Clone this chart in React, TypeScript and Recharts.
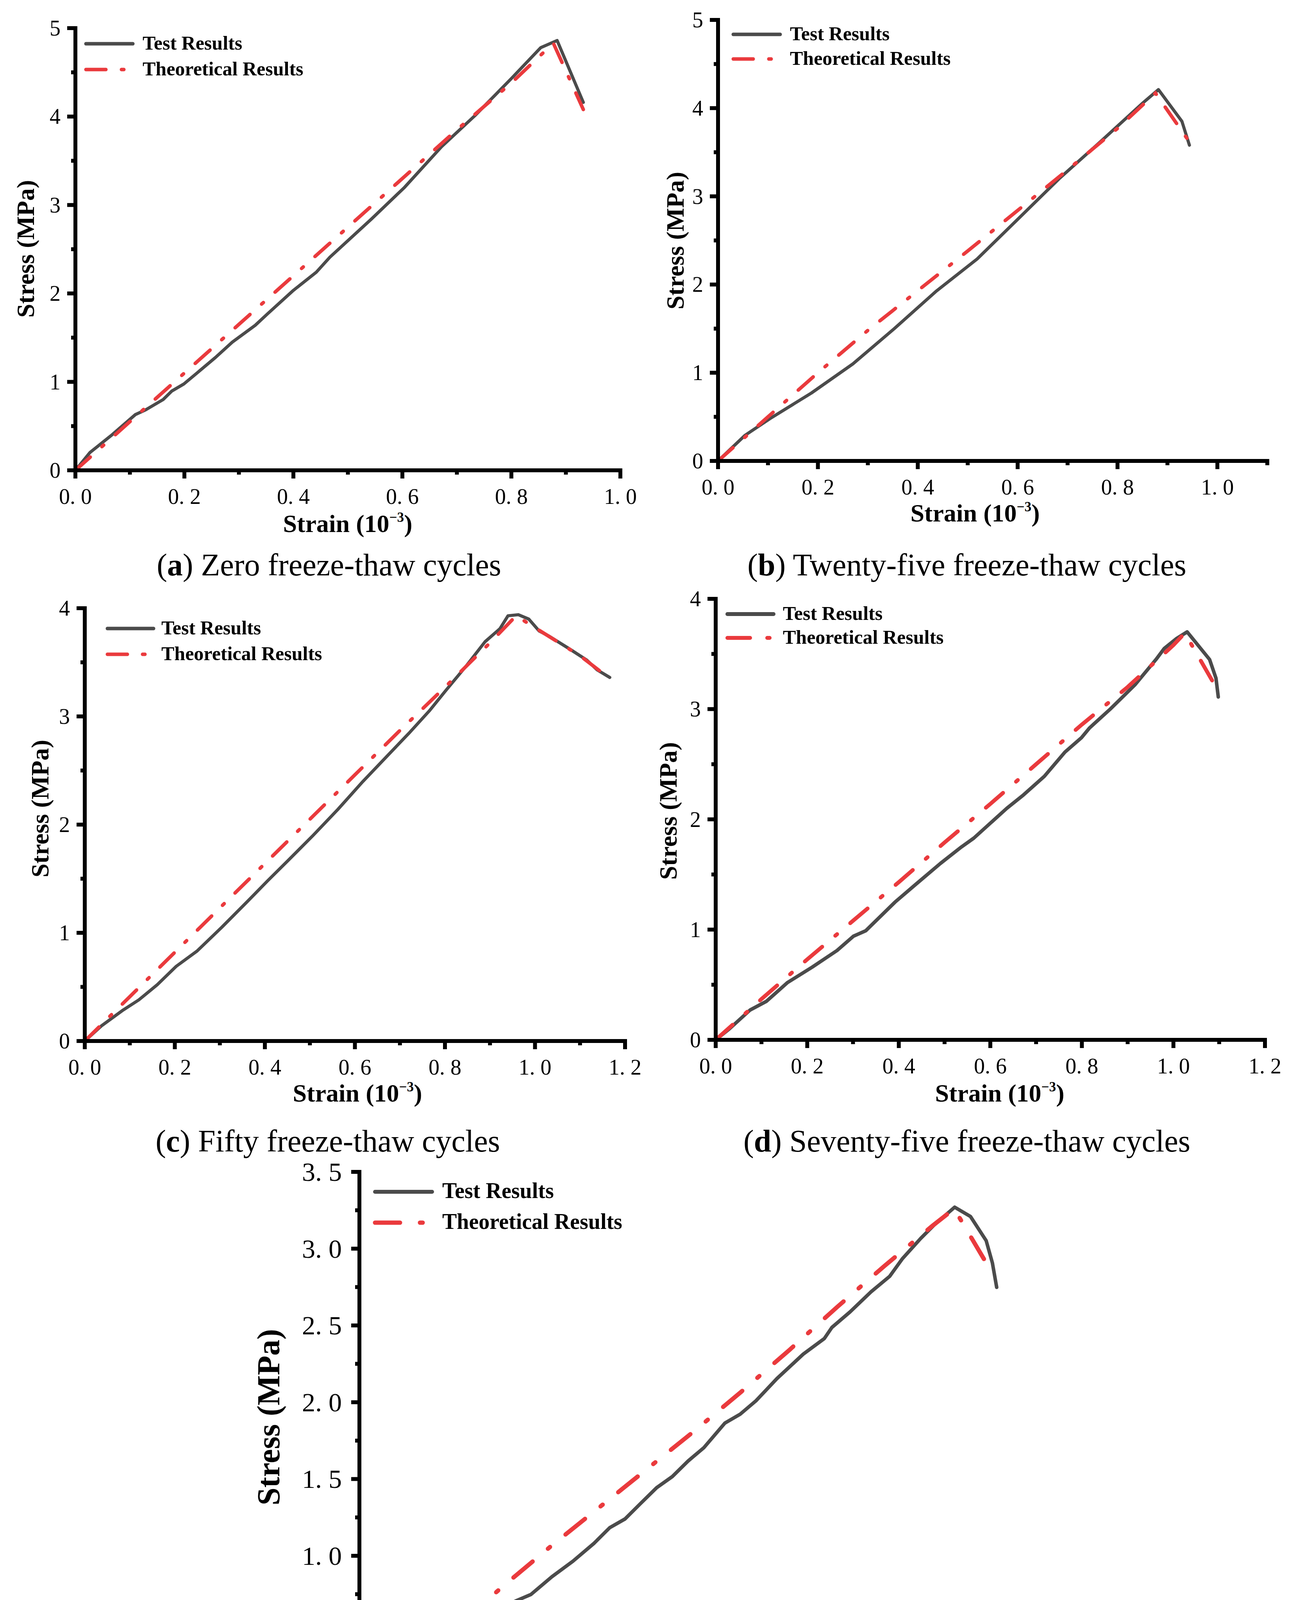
import React from 'react';
import { Line, LineChart, XAxis, YAxis } from 'recharts';

const SERIF = '"Liberation Serif", "Times New Roman", serif';
const TEST_COLOR = '#4b4b4b';
const THEORY_COLOR = '#ea3a3d';

// (a) zero freeze-thaw cycles
const testA = [
  [0, 0], [0.0265, 0.2], [0.065, 0.39], [0.11, 0.63], [0.129, 0.684], [0.161, 0.8],
  [0.177, 0.897], [0.199, 0.976], [0.225, 1.11], [0.257, 1.276], [0.288, 1.45], [0.33, 1.64],
  [0.352, 1.766], [0.4, 2.035], [0.442, 2.24], [0.467, 2.41], [0.543, 2.84], [0.604, 3.2],
  [0.672, 3.66], [0.733, 4.01], [0.8, 4.43], [0.854, 4.78], [0.884, 4.86], [0.932, 4.16],
];
const theoryA = [
  [0, 0], [0.1, 0.55], [0.2, 1.1], [0.3, 1.65], [0.4, 2.2], [0.5, 2.75], [0.6, 3.3],
  [0.7, 3.85], [0.8, 4.38], [0.877, 4.83], [0.932, 4.08],
];

// (b) twenty-five cycles
const testB = [
  [0, 0], [0.054, 0.29], [0.104, 0.48], [0.187, 0.77], [0.27, 1.1], [0.353, 1.5],
  [0.436, 1.92], [0.519, 2.29], [0.602, 2.75], [0.685, 3.21], [0.768, 3.63], [0.851, 4.06],
  [0.882, 4.21], [0.929, 3.85], [0.944, 3.58],
];
const theoryB = [
  [0, 0], [0.1, 0.5], [0.2, 1.0], [0.3, 1.48], [0.4, 1.93], [0.5, 2.38], [0.6, 2.84],
  [0.7, 3.3], [0.8, 3.77], [0.876, 4.17], [0.94, 3.65],
];

// (c) fifty cycles
const testC = [
  [0, 0], [0.037, 0.14], [0.083, 0.28], [0.12, 0.38], [0.161, 0.52], [0.203, 0.69],
  [0.249, 0.83], [0.304, 1.05], [0.359, 1.28], [0.406, 1.48], [0.452, 1.67], [0.507, 1.9],
  [0.562, 2.14], [0.618, 2.4], [0.673, 2.64], [0.719, 2.84], [0.765, 3.05], [0.802, 3.24],
  [0.848, 3.47], [0.889, 3.69], [0.922, 3.81], [0.94, 3.93], [0.963, 3.94], [0.986, 3.9],
  [1.009, 3.79], [1.032, 3.74], [1.078, 3.62], [1.115, 3.52], [1.138, 3.43], [1.166, 3.36],
];
const theoryC = [
  [0, 0], [0.1, 0.41], [0.2, 0.82], [0.3, 1.23], [0.4, 1.64], [0.5, 2.05], [0.6, 2.46],
  [0.7, 2.87], [0.8, 3.27], [0.9, 3.68], [0.958, 3.93], [1.0, 3.82], [1.05, 3.69],
  [1.1, 3.56], [1.166, 3.35],
];

// (d) seventy-five cycles
const testD = [
  [0, 0], [0.03, 0.1], [0.075, 0.27], [0.111, 0.35], [0.157, 0.52], [0.211, 0.66],
  [0.265, 0.81], [0.301, 0.94], [0.328, 0.99], [0.392, 1.25], [0.437, 1.41], [0.491, 1.6],
  [0.537, 1.75], [0.564, 1.83], [0.636, 2.1], [0.672, 2.22], [0.718, 2.39], [0.763, 2.61],
  [0.799, 2.74], [0.817, 2.83], [0.862, 3.0], [0.916, 3.22], [0.962, 3.45], [0.98, 3.55],
  [1.007, 3.64], [1.03, 3.7], [1.079, 3.45], [1.093, 3.28], [1.098, 3.11],
];
const theoryD = [
  [0, 0], [0.1, 0.37], [0.2, 0.73], [0.3, 1.08], [0.4, 1.43], [0.5, 1.79], [0.6, 2.14],
  [0.7, 2.5], [0.8, 2.86], [0.9, 3.2], [1.0, 3.58], [1.025, 3.69], [1.09, 3.22],
];

// (e) one hundred cycles
const testE = [
  [0, 0], [0.031, 0.08], [0.064, 0.14], [0.107, 0.255], [0.151, 0.357], [0.195, 0.443],
  [0.239, 0.545], [0.283, 0.617], [0.326, 0.704], [0.359, 0.748], [0.403, 0.864],
  [0.447, 0.965], [0.491, 1.081], [0.524, 1.183], [0.556, 1.24], [0.589, 1.342],
  [0.622, 1.443], [0.655, 1.516], [0.688, 1.617], [0.721, 1.704], [0.765, 1.864],
  [0.797, 1.922], [0.83, 2.009], [0.874, 2.154], [0.929, 2.313], [0.973, 2.414],
  [0.989, 2.487], [1.027, 2.588], [1.071, 2.719], [1.11, 2.82], [1.137, 2.936],
  [1.175, 3.067], [1.203, 3.154], [1.246, 3.27], [1.279, 3.21], [1.312, 3.052],
  [1.325, 2.907], [1.334, 2.748],
];
const theoryE = [
  [0, 0], [0.1, 0.27], [0.2, 0.53], [0.3, 0.8], [0.4, 1.06], [0.5, 1.31], [0.6, 1.56],
  [0.7, 1.81], [0.8, 2.07], [0.9, 2.34], [1.0, 2.62], [1.1, 2.89], [1.2, 3.15],
  [1.245, 3.26], [1.323, 2.85],
];

const xTicks10 = [0, 0.1, 0.2, 0.3, 0.4, 0.5, 0.6, 0.7, 0.8, 0.9, 1.0];
const xTicks11 = [0, 0.1, 0.2, 0.3, 0.4, 0.5, 0.6, 0.7, 0.8, 0.9, 1.0, 1.1];
const xTicks12 = [0, 0.1, 0.2, 0.3, 0.4, 0.5, 0.6, 0.7, 0.8, 0.9, 1.0, 1.1, 1.2];
const xTicks14 = [0, 0.1, 0.2, 0.3, 0.4, 0.5, 0.6, 0.7, 0.8, 0.9, 1.0, 1.1, 1.2, 1.3, 1.4];
const yTicks5 = [0, 0.5, 1, 1.5, 2, 2.5, 3, 3.5, 4, 4.5, 5];
const yTicks4 = [0, 0.5, 1, 1.5, 2, 2.5, 3, 3.5, 4];
const yTicks35 = [0, 0.25, 0.5, 0.75, 1, 1.25, 1.5, 1.75, 2, 2.25, 2.5, 2.75, 3, 3.25, 3.5];

const toPoints = (pairs: number[][]) => pairs.map(([x, y]) => ({ x, y }));
const isMajor = (v: number, step: number) => Math.abs(v / step - Math.round(v / step)) < 1e-6;
const fmtSpaced = (v: number) => v.toFixed(1).replace('.', '. ');
const fmtInt = (v: number) => String(Math.round(v));

const AXIS_W = 10;

type PanelProps = {
  letter: string;
  caption: string;
  test: number[][];
  theory: number[][];
  xMax: number;
  yMax: number;
  xTicks: number[];
  yTicks: number[];
  yStep: number;
  yFmt: (v: number) => string;
  left: number;
  right: number;
  top: number;
  bottom: number;
  tickFont: number;
  xLabelOff: number;
  yLabelGap: number;
  titleFont: number;
  xTitle: [number, number];
  yTitle: [number, number];
  legend: { x: number; y: number; len: number; textX: number; gap: number; font: number };
  capFont: number;
  capPos: [number, number];
  testW: number;
  theoryW: number;
  dash: string;
};

function Panel(p: PanelProps) {
  const w = p.right - p.left;
  const h = p.bottom - p.top;
  const YW = 240;
  const XH = 160;
  const TM = 40;
  const RM = 90;

  const xTick = (props: any) => {
    const { x, y, payload } = props;
    const major = isMajor(payload.value, 0.2);
    return (
      <g>
        <line x1={x} x2={x} y1={y} y2={y + (major ? 21 : 11)} stroke="#000" strokeWidth={10} />
        {major && (
          <text x={x} y={y + p.xLabelOff} textAnchor="middle" dominantBaseline="central"
            fontFamily={SERIF} fontSize={p.tickFont} fill="#000">
            {fmtSpaced(payload.value)}
          </text>
        )}
      </g>
    );
  };

  const yTick = (props: any) => {
    const { x, y, payload } = props;
    const major = isMajor(payload.value, p.yStep);
    return (
      <g>
        <line x1={x} x2={x - (major ? 21 : 11)} y1={y} y2={y} stroke="#000" strokeWidth={10} />
        {major && (
          <text x={x - p.yLabelGap} y={y} textAnchor="end" dominantBaseline="central"
            fontFamily={SERIF} fontSize={p.tickFont} fill="#000">
            {p.yFmt(payload.value)}
          </text>
        )}
      </g>
    );
  };

  const lg = p.legend;
  const titleStyle: React.CSSProperties = {
    position: 'absolute',
    fontFamily: SERIF,
    fontWeight: 'bold',
    fontSize: p.titleFont,
    whiteSpace: 'nowrap',
    lineHeight: 1,
  };

  return (
    <>
      <div style={{ position: 'absolute', left: p.left - YW, top: p.top - TM }}>
        <LineChart
          width={YW + w + RM}
          height={TM + h + XH}
          margin={{ top: TM, right: RM, left: 0, bottom: 0 }}
          style={{ overflow: 'visible' }}
        >
          <XAxis
            type="number"
            dataKey="x"
            domain={[0, p.xMax]}
            ticks={p.xTicks}
            interval={0}
            height={XH}
            tickSize={0}
            tickMargin={0}
            tickLine={false}
            tick={xTick}
            axisLine={{ stroke: '#000', strokeWidth: AXIS_W, strokeLinecap: 'square' }}
            allowDataOverflow
          />
          <YAxis
            type="number"
            domain={[0, p.yMax]}
            ticks={p.yTicks}
            interval={0}
            width={YW}
            tickSize={0}
            tickMargin={0}
            tickLine={false}
            tick={yTick}
            axisLine={{ stroke: '#000', strokeWidth: AXIS_W, strokeLinecap: 'square' }}
            allowDataOverflow
          />
          <Line
            data={toPoints(p.test)}
            dataKey="y"
            type="linear"
            stroke={TEST_COLOR}
            strokeWidth={p.testW}
            strokeLinejoin="round"
            strokeLinecap="round"
            dot={false}
            isAnimationActive={false}
          />
          <Line
            data={toPoints(p.theory)}
            dataKey="y"
            type="linear"
            stroke={THEORY_COLOR}
            strokeWidth={p.theoryW}
            strokeDasharray={p.dash}
            strokeLinecap="round"
            dot={false}
            isAnimationActive={false}
          />
        </LineChart>
      </div>

      {/* legend */}
      <svg style={{ position: 'absolute', left: lg.x - 6, top: lg.y - 10 }} width={lg.len + 12} height={lg.gap + 20}>
        <line x1={6} x2={6 + lg.len} y1={10} y2={10} stroke={TEST_COLOR} strokeWidth={p.testW + 1} strokeLinecap="round" />
        <line x1={6} x2={6 + lg.len} y1={10 + lg.gap} y2={10 + lg.gap} stroke={THEORY_COLOR}
          strokeWidth={p.theoryW} strokeDasharray={p.dash} strokeLinecap="round" />
      </svg>
      {['Test Results', 'Theoretical Results'].map((t, i) => (
        <div key={t} style={{
          position: 'absolute', left: lg.textX, top: lg.y + i * lg.gap,
          transform: 'translateY(-55%)', fontFamily: SERIF, fontWeight: 'bold',
          fontSize: lg.font, whiteSpace: 'nowrap', lineHeight: 1,
        }}>{t}</div>
      ))}

      {/* axis titles */}
      <div style={{ ...titleStyle, left: p.xTitle[0], top: p.xTitle[1], transform: 'translate(-50%, -50%)' }}>
        Strain (10<sup style={{ fontSize: '0.55em', verticalAlign: '0.75em' }}>−3</sup>)
      </div>
      <div style={{
        ...titleStyle, left: p.yTitle[0], top: p.yTitle[1],
        transform: 'translate(-50%, -50%) rotate(-90deg)',
      }}>
        Stress (MPa)
      </div>

      {/* caption */}
      <div style={{
        position: 'absolute', left: p.capPos[0], top: p.capPos[1], transform: 'translate(-50%, -50%)',
        fontFamily: SERIF, fontSize: p.capFont, whiteSpace: 'nowrap', lineHeight: 1,
      }}>
        (<b>{p.letter}</b>) {p.caption}
      </div>
    </>
  );
}

export default function App() {
  return (
    <div style={{ position: 'absolute', left: 0, top: 0, width: 3320, height: 4739, background: '#fff', overflow: 'hidden' }}>
      <Panel
        letter="a" caption="Zero freeze-thaw cycles" test={testA} theory={theoryA}
        xMax={1.0} yMax={5} xTicks={xTicks10} yTicks={yTicks5} yStep={1} yFmt={fmtInt}
        left={193} right={1588} top={72} bottom={1204}
        tickFont={56} xLabelOff={67} yLabelGap={38} titleFont={64}
        xTitle={[890, 1340]} yTitle={[66, 637]}
        legend={{ x: 220, y: 112, len: 120, textX: 365, gap: 66, font: 50 }}
        capFont={80} capPos={[842, 1446]}
        testW={8} theoryW={9} dash="51 40 6 40"
      />
      <Panel
        letter="b" caption="Twenty-five freeze-thaw cycles" test={testB} theory={theoryB}
        xMax={1.1} yMax={5} xTicks={xTicks11} yTicks={yTicks5} yStep={1} yFmt={fmtInt}
        left={1838} right={3244} top={51} bottom={1180}
        tickFont={56} xLabelOff={67} yLabelGap={38} titleFont={64}
        xTitle={[2496, 1313]} yTitle={[1729, 616]}
        legend={{ x: 1877, y: 88, len: 120, textX: 2022, gap: 63, font: 50 }}
        capFont={80} capPos={[2475, 1446]}
        testW={8} theoryW={9} dash="51 40 6 40"
      />
      <Panel
        letter="c" caption="Fifty freeze-thaw cycles" test={testC} theory={theoryC}
        xMax={1.2} yMax={4} xTicks={xTicks12} yTicks={yTicks4} yStep={1} yFmt={fmtInt}
        left={217} right={1600} top={1557} bottom={2665}
        tickFont={56} xLabelOff={67} yLabelGap={38} titleFont={64}
        xTitle={[915, 2798]} yTitle={[103, 2070]}
        legend={{ x: 275, y: 1609, len: 118, textX: 413, gap: 66, font: 50 }}
        capFont={80} capPos={[839, 2921]}
        testW={8} theoryW={9} dash="51 39 6 39"
      />
      <Panel
        letter="d" caption="Seventy-five freeze-thaw cycles" test={testD} theory={theoryD}
        xMax={1.2} yMax={4} xTicks={xTicks12} yTicks={yTicks4} yStep={1} yFmt={fmtInt}
        left={1832} right={3238} top={1533} bottom={2662}
        tickFont={56} xLabelOff={67} yLabelGap={38} titleFont={64}
        xTitle={[2559, 2798]} yTitle={[1711, 2076]}
        legend={{ x: 1862, y: 1572, len: 118, textX: 2004, gap: 61, font: 50 }}
        capFont={80} capPos={[2475, 2921]}
        testW={9} theoryW={10} dash="58 44 6 44"
      />
      <Panel
        letter="e" caption="One hundred freeze-thaw cycles" test={testE} theory={theoryE}
        xMax={1.4} yMax={3.5} xTicks={xTicks14} yTicks={yTicks35} yStep={0.5} yFmt={fmtSpaced}
        left={920} right={2632} top={3000} bottom={4376}
        tickFont={68} xLabelOff={82} yLabelGap={45} titleFont={82}
        xTitle={[1775, 4548]} yTitle={[688, 3628]}
        legend={{ x: 960, y: 3051, len: 146, textX: 1132, gap: 79, font: 56 }}
        capFont={80} capPos={[1663, 4669]}
        testW={9} theoryW={11} dash="64 51 7 51"
      />
    </div>
  );
}
